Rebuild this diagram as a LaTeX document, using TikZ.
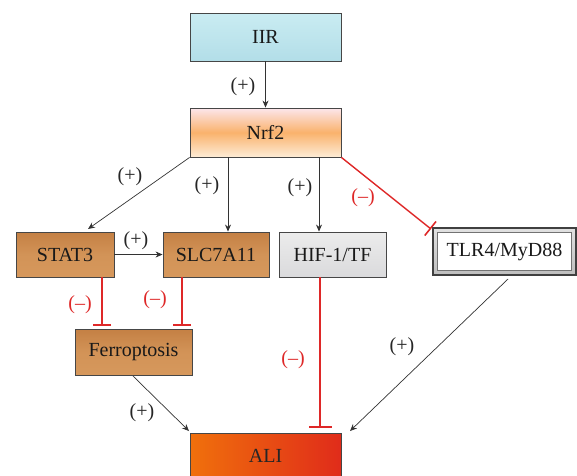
\documentclass[tikz,border=0pt]{standalone}
\usepackage{fontspec}
\setmainfont{Liberation Serif}
\usetikzlibrary{arrows.meta}
\definecolor{redl}{RGB}{222,40,40}
\definecolor{woodA}{RGB}{196,128,68}
\definecolor{woodB}{RGB}{214,152,92}
\definecolor{edgeg}{RGB}{70,70,70}
\definecolor{nrfT}{RGB}{252,230,236}
\definecolor{nrfM}{RGB}{250,178,108}
\definecolor{nrfB}{RGB}{253,236,214}
\tikzset{
  box/.style={draw=edgeg, line width=0.9pt, inner sep=0pt, font=\fontsize{20}{24}\selectfont, text=black!90},
  wood/.style={box, top color=woodA, bottom color=woodB, middle color=woodB!80!woodA},
  arr/.style={draw=black!80, line width=0.7pt, -{Stealth[length=7pt,width=6pt]}},
  inh/.style={draw=redl, line width=1.4pt, -{Bar[width=18pt,line width=1.6pt]}},
  lab/.style={font=\fontsize{20}{24}\selectfont, text=black!85, inner sep=0pt},
  rlab/.style={lab, text=redl},
}
\begin{document}
\begin{tikzpicture}[x=1pt,y=-1pt]
\useasboundingbox (0,0) rectangle (577,475);
\begin{scope}
\clip (0,0) rectangle (577,475);
% nodes
\node[box, minimum width=151pt, minimum height=48pt, top color={rgb,255:red,202;green,236;blue,242}, bottom color={rgb,255:red,178;green,222;blue,232}] (IIR) at (265.5,37) {IIR};
\node[box, minimum width=151pt, minimum height=49pt, top color=nrfT, bottom color=nrfB, middle color=nrfM] (Nrf2) at (265.5,132.5) {Nrf2};
\node[wood, minimum width=98pt, minimum height=45pt] (STAT3) at (65,254.5) {STAT3};
\node[wood, minimum width=106pt, minimum height=45pt] (SLC) at (216,254.5) {SLC7A11};
\node[box, minimum width=107pt, minimum height=45pt, top color={rgb,255:red,236;green,236;blue,236}, bottom color={rgb,255:red,218;green,218;blue,220}] (HIF) at (332.5,254.5) {HIF-1/TF};
\node[box, draw=black!75, line width=1.2pt, top color={rgb,255:red,225;green,225;blue,225}, bottom color={rgb,255:red,190;green,190;blue,190}, minimum width=143pt, minimum height=47pt] (TLR4) at (504.5,251.5) {};
\node[box, draw=black!55, line width=0.8pt, fill=white, minimum width=134pt, minimum height=38pt] (TLR4in) at (504.5,251.5) {TLR4/MyD88};
\node[wood, minimum width=117pt, minimum height=46pt] (Ferro) at (133.5,352) {Ferroptosis};
\node[box, minimum width=151pt, minimum height=50pt, shading=axis, left color={rgb,255:red,240;green,112;blue,12}, right color={rgb,255:red,224;green,44;blue,26}] (ALI) at (265.5,458) {};
\node[lab] (ALItext) at (265.5,456) {ALI};
\end{scope}
% helper coordinates
\coordinate (xS) at (228,0);
\coordinate (xH) at (319,0);
\coordinate (xF1) at (102,0);
\coordinate (xF2) at (182,0);
\coordinate (xA) at (320,0);
\coordinate (tS) at (88,229);
\coordinate (tT) at (431,229);
\coordinate (sT) at (508,279);
\coordinate (tA) at (350,431);
\coordinate (tF) at (189,431);
\coordinate (sF) at (133,376);
% connectors
\draw[arr] (IIR.south) -- (Nrf2.north);
\draw[arr] (Nrf2.south west) -- (tS);
\draw[arr] (Nrf2.south -| xS) -- (SLC.north -| xS);
\draw[arr] (Nrf2.south -| xH) -- (HIF.north -| xH);
\draw[inh] (Nrf2.south east) -- (tT);
\draw[arr] (STAT3.east) -- (SLC.west);
\draw[inh] (STAT3.south -| xF1) -- ([yshift=3pt]Ferro.north -| xF1);
\draw[inh] (SLC.south -| xF2) -- ([yshift=3pt]Ferro.north -| xF2);
\draw[inh, -{Bar[width=23pt,line width=1.6pt]}] (HIF.south -| xA) -- ([yshift=5pt]ALI.north -| xA);
\draw[arr] (sF) -- (tF);
\draw[arr] (sT) -- (tA);
% labels
\node[lab] (l1) at (243,87) {(+)};
\node[lab] (l2) at (130,177) {(+)};
\node[lab] (l3) at (207,186) {(+)};
\node[lab] (l4) at (300,188) {(+)};
\node[rlab] (l5) at (363,198) {(–)};
\node[lab] (l6) at (136,241) {(+)};
\node[rlab] (l7) at (80,305) {(–)};
\node[rlab] (l8) at (155,300) {(–)};
\node[rlab] (l9) at (293,360) {(–)};
\node[lab] (l10) at (402,347) {(+)};
\node[lab] (l11) at (142,413) {(+)};
\end{tikzpicture}
\end{document}
